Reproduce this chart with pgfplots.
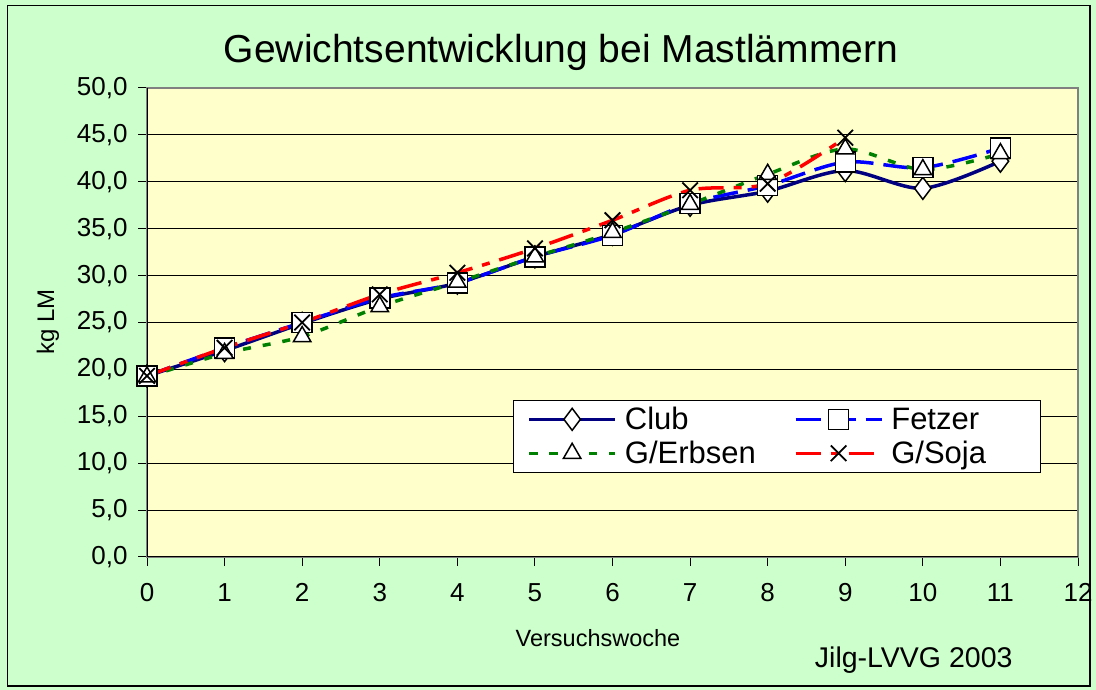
\documentclass[border=0pt]{standalone}
\usepackage{pgfplots}
\pgfplotsset{compat=1.18}
\usepackage{fontspec}
\setmainfont{Liberation Sans}
\definecolor{outerbg}{HTML}{CCFFCC}
\definecolor{plotbg}{HTML}{FFFFCC}
\definecolor{clubc}{HTML}{000080}
\definecolor{fetzc}{HTML}{0000FF}
\definecolor{erbc}{HTML}{008000}
\definecolor{sojac}{HTML}{FF0000}
\newcommand{\fs}[1]{\fontsize{#1bp}{1.2\dimexpr#1bp\relax}\selectfont}
\begin{document}
\begin{tikzpicture}
\useasboundingbox (0,0) rectangle (1096bp,690bp);
\fill[outerbg] (0,0) rectangle (1096bp,690bp);
\draw[black, line width=1.5bp] (7.5bp,4bp) rectangle (1090bp,684.5bp);
\begin{axis}[
  at={(147bp,133bp)}, anchor=south west,
  scale only axis, width=931bp, height=469bp,
  xmin=0, xmax=12, ymin=0, ymax=50,
  xtick={0,1,...,12}, ytick={0,5,...,50},
  tick pos=left, tick align=outside, major tick length=9bp,
  tick style={black, line width=1bp},
  axis background/.style={fill=plotbg},
  axis line style={draw=gray, line width=1.5bp},
  ymajorgrids, grid style={black, line width=1bp},
  /pgf/number format/assume math mode=true,
  ticklabel style={font=\fs{26}},
  yticklabel style={xshift=-7bp, /pgf/number format/.cd, fixed, fixed zerofill, precision=1, use comma},
  xticklabel style={yshift=-14bp, /pgf/number format/.cd, fixed, precision=0},
  legend columns=2,
  legend cell align=left,
  legend style={at={(0.393,0.335)}, anchor=north west, draw=black, line width=1bp, fill=white,
    font=\fs{31}, inner xsep=14bp, inner ysep=5bp, row sep=6bp,
    /tikz/every odd column/.append style={column sep=6bp},
    /tikz/every even column/.append style={column sep=36bp}},
  legend image code/.code={\draw[mark repeat=2,mark phase=2] plot coordinates {(0bp,0bp)(43bp,0bp)(86bp,0bp)};},
  every axis plot/.append style={smooth, line width=3.5bp},
]
\addplot[clubc, solid, mark=diamond*, mark size=11bp, mark options={solid, fill=white, draw=black, line width=1.5bp}]
 coordinates {(0,19.3)(1,22.0)(2,24.9)(3,27.5)(4,29.2)(5,32.0)(6,34.4)(7,37.5)(8,39.0)(9,41.2)(10,39.3)(11,42.2)};
\addlegendentry{Club}
\addplot[fetzc, dash pattern=on 25bp off 10bp, mark=square*, mark size=10bp, mark options={solid, fill=white, draw=black, line width=1.5bp}]
 coordinates {(0,19.3)(1,22.3)(2,25.0)(3,27.6)(4,29.2)(5,32.0)(6,34.3)(7,37.7)(8,39.6)(9,42.1)(10,41.5)(11,43.6)};
\addlegendentry{Fetzer\hspace*{45bp}}
\addplot[erbc, dash pattern=on 8bp off 12bp, mark=triangle*, mark size=10bp, mark options={solid, fill=white, draw=black, line width=1.5bp}]
 coordinates {(0,19.2)(1,21.7)(2,23.5)(3,26.7)(4,29.3)(5,32.0)(6,34.6)(7,37.6)(8,40.8)(9,43.5)(10,41.3)(11,43.0)};
\addlegendentry{G/Erbsen}
\addplot[sojac, dash pattern=on 25bp off 10bp on 8bp off 10bp, mark=x, mark size=11bp, mark options={solid, draw=black, line width=1.8bp}]
 coordinates {(0,19.3)(1,22.3)(2,25.0)(3,28.0)(4,30.3)(5,32.9)(6,35.9)(7,39.1)(8,39.8)(9,44.7)};
\addlegendentry{G/Soja}
\draw[black, line width=1.5bp] (rel axis cs:0,1) -- (rel axis cs:0,0) -- (rel axis cs:1,0);
\end{axis}
\node[font=\fs{39}] at (561bp,638bp) {Gewichtsentwicklung bei Mastlämmern};
\node[font=\fs{23.5}] at (598bp,52bp) {Versuchswoche};
\node[font=\fs{24}, rotate=90] at (48bp,368bp) {kg LM};
\node[font=\fs{28.5}, anchor=east] at (1016bp,30bp) {Jilg-LVVG 2003};
\end{tikzpicture}
\end{document}
